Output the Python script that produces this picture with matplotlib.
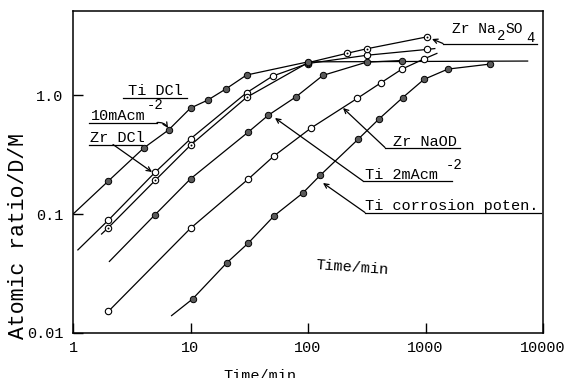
import matplotlib
matplotlib.use("Agg")
import matplotlib.pyplot as plt
import numpy as np

# ---------------- data ----------------
# Ti DCl 10 mA cm^-2 (filled)
ti_dcl_t = [2, 4, 6.5, 10, 14, 20, 30, 100]
ti_dcl_r = [0.19, 0.36, 0.51, 0.78, 0.91, 1.13, 1.48, 1.91]
ti_dcl_line_t = [1.0] + ti_dcl_t + [7400]
ti_dcl_line_r = [0.10] + ti_dcl_r + [1.94]

# Zr DCl (open)
zr_dcl_t = [2, 5, 10, 30, 50, 100, 316, 1030]
zr_dcl_r = [0.089, 0.225, 0.43, 1.05, 1.45, 1.85, 2.17, 2.43]
zr_dcl_line_t = [1.1] + zr_dcl_t + [1200]
zr_dcl_line_r = [0.050] + zr_dcl_r + [2.47]

# Zr Na2SO4 (dotted circle)
zr_so4_t = [2, 5, 10, 30, 100, 213, 316, 1030]
zr_so4_r = [0.077, 0.192, 0.38, 0.96, 1.88, 2.25, 2.46, 3.1]
zr_so4_line_t = [1.75] + zr_so4_t
zr_so4_line_r = [0.068] + zr_so4_r

# Ti 2 mA cm^-2 (filled)
ti_2ma_t = [5, 10, 31, 46, 79, 134, 316, 630]
ti_2ma_r = [0.099, 0.198, 0.49, 0.68, 0.97, 1.47, 1.90, 1.96]
ti_2ma_line_t = [2.04] + ti_2ma_t
ti_2ma_line_r = [0.040] + ti_2ma_r

# Zr NaOD (open)
zr_naod_t = [2, 10, 31, 51, 106, 262, 416, 630, 970]
zr_naod_r = [0.0152, 0.076, 0.197, 0.307, 0.53, 0.94, 1.27, 1.66, 2.02]
zr_naod_line_t = zr_naod_t + [1250]
zr_naod_line_r = zr_naod_r + [2.25]

# Ti corrosion potential (filled)
ti_corr_t = [10.4, 20.4, 31, 51.6, 90, 127, 266, 405, 640, 970, 1550, 3550]
ti_corr_r = [0.0193, 0.039, 0.057, 0.097, 0.150, 0.212, 0.425, 0.636, 0.956, 1.36, 1.66, 1.83]
ti_corr_line_t = [6.9] + ti_corr_t
ti_corr_line_r = [0.014] + ti_corr_r

x_ticks = [1, 10, 100, 1000, 10000]
x_ticklabels = ["1", "10", "100", "1000", "10000"]
y_ticks = [0.01, 0.1, 1.0]
y_ticklabels = ["0.01", "0.1", "1.0"]

# ---------------- figure ----------------
W, H = 572, 378
FONT = "Liberation Mono"
plt.rcParams["font.family"] = [FONT, "DejaVu Sans Mono"]

fig = plt.figure(figsize=(W / 100, H / 100), dpi=100)
L, R, T, B = 73, 543, 11, 333
ax = fig.add_axes([L / W, 1 - B / H, (R - L) / W, (B - T) / H])
ax.set_xscale("log")
ax.set_yscale("log")
ax.set_xlim(1, 10000)
ax.set_ylim(0.01, 10 ** ((95 - 11) / 118.5))

LW = 0.9
FILL = "#5a5a5a"
MS = 4.6

lines = [
    (zr_dcl_line_t, zr_dcl_line_r),
    (zr_so4_line_t, zr_so4_line_r),
    (ti_2ma_line_t, ti_2ma_line_r),
    (zr_naod_line_t, zr_naod_line_r),
    (ti_corr_line_t, ti_corr_line_r),
    (ti_dcl_line_t, ti_dcl_line_r),
]
for lt, lr in lines:
    ax.plot(lt, lr, color="black", lw=LW, zorder=2)

def open_pts(t, r):
    ax.plot(t, r, ls="none", marker="o", ms=MS, mfc="white", mec="black", mew=0.8, zorder=3)

def dotted_pts(t, r):
    ax.plot(t, r, ls="none", marker="o", ms=MS, mfc="white", mec="black", mew=0.8, zorder=3)
    ax.plot(t, r, ls="none", marker="o", ms=1.4, mfc="black", mec="black", mew=0, zorder=3)

def filled_pts(t, r):
    ax.plot(t, r, ls="none", marker="o", ms=MS, mfc=FILL, mec="black", mew=0.7, zorder=4)

open_pts(zr_dcl_t, zr_dcl_r)
dotted_pts(zr_so4_t, zr_so4_r)
open_pts(zr_naod_t, zr_naod_r)
filled_pts(ti_2ma_t, ti_2ma_r)
filled_pts(ti_corr_t, ti_corr_r)
filled_pts(ti_dcl_t, ti_dcl_r)

# axes styling
for s in ax.spines.values():
    s.set_linewidth(1.1)
ax.set_xticks(x_ticks)
ax.set_xticklabels(x_ticklabels)
ax.set_yticks(y_ticks)
ax.set_yticklabels(y_ticklabels)
ax.minorticks_off()
ax.tick_params(axis="both", direction="in", length=7, width=1.0, labelsize=11)
ax.tick_params(axis="x", pad=6)
ax.tick_params(axis="y", pad=7)
for lab in ax.get_xticklabels() + ax.get_yticklabels():
    lab.set_fontfamily(FONT)

# ---------------- annotations (pixel helper -> axes fraction) ----------------
def P(px, py):
    return ((px - L) / (R - L), (B - py) / (B - T))

def txt(px, py, s, size=11, **kw):
    x, y = P(px, py)
    ax.text(x, y, s, transform=ax.transAxes, fontsize=size, family=FONT,
            va="baseline", ha="left", clip_on=False, **kw)

def seg(p1, p2):
    (x1, y1), (x2, y2) = P(*p1), P(*p2)
    ax.plot([x1, x2], [y1, y2], color="black", lw=LW, transform=ax.transAxes, clip_on=False)

def arrow(p_from, p_to, rad=0.0):
    ax.annotate("", xy=P(*p_to), xycoords="axes fraction",
                xytext=P(*p_from), textcoords="axes fraction",
                arrowprops=dict(arrowstyle="->", lw=LW, color="black",
                                shrinkA=0, shrinkB=0, mutation_scale=8,
                                connectionstyle=f"arc3,rad={rad}"))

SUP = 10

# Ti DCl / 10mAcm-2
txt(128, 95, "Ti DCl")
seg((123, 98), (187, 98))
txt(91, 120, "10mAcm")
txt(147, 109, "-2", size=SUP)
seg((89, 122.5), (157, 122.5))
arrow((157, 122.5), (168, 128), rad=-0.3)

# Zr DCl
txt(90, 142, "Zr DCl")
seg((89, 144.5), (142, 144.5))
arrow((113, 144.5), (152, 172))

# Zr Na2SO4
txt(452, 33, "Zr Na", size=10.5)
txt(497, 40, "2", size=SUP)
txt(505, 33, "SO", size=10.5)
txt(526, 42, "4", size=SUP)
seg((443, 43.5), (537, 43.5))
arrow((443, 43.5), (432, 39))

# Zr NaOD
txt(393, 146, "Zr NaOD")
seg((385, 147.5), (460, 147.5))
arrow((385, 147.5), (343, 108))

# Ti 2mAcm-2
txt(365, 179, "Ti 2mAcm")
txt(446, 169, "-2", size=SUP)
seg((363, 181), (452, 181))
arrow((363, 181), (275, 118))

# Ti corrosion poten.
txt(365, 210, "Ti corrosion poten.")
seg((365, 212.5), (541, 212.5))
arrow((365, 212.5), (323, 183))

# inner Time/min
cx, cy = P(352, 268)
ax.text(cx, cy, "Time/min", transform=ax.transAxes, fontsize=11, family=FONT,
        ha="center", va="center", rotation=-4)

# axis labels
fig.text(19 / W, 1 - 236 / H, "Atomic ratio/D/M", rotation=90, fontsize=15.5,
         family=FONT, ha="center", va="center")
fig.text(260 / W, 1 - 369 / H, "Time/min", fontsize=11, family=FONT,
         ha="center", va="top")

fig.savefig("out.png", dpi=100)
